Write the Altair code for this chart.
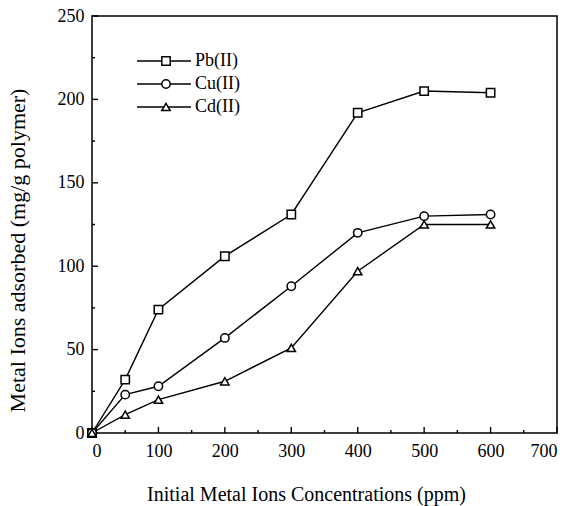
import altair as alt
import pandas as pd

conc = [0, 50, 100, 200, 300, 400, 500, 600]
pb = [0, 32, 74, 106, 131, 192, 205, 204]
cu = [0, 23, 28, 57, 88, 120, 130, 131]
cd = [0, 11, 20, 31, 51, 97, 125, 125]
series = ["Pb(II)", "Cu(II)", "Cd(II)"]
shapes = ["square", "circle", "triangle-up"]
x_labels = [0, 100, 200, 300, 400, 500, 600, 700]
x_minor = [50, 150, 250, 350, 450, 550, 650]
y_labels = [0, 50, 100, 150, 200, 250]
y_minor = [25, 75, 125, 175, 225]

rows = []
for name, vals in zip(series, [pb, cu, cd]):
    for c, v in zip(conc, vals):
        rows.append({"series": name, "conc": c, "value": v})
df = pd.DataFrame(rows)
leg = pd.DataFrame({"series": series})

W, H = 465, 417
FONT = "Liberation Serif"
MAJ, MIN = 6, 3

def xs():
    return alt.Scale(domain=[0, 700], nice=False, zero=False)

def ys():
    return alt.Scale(domain=[0, 250], nice=False, zero=False)

shape_scale = alt.Scale(domain=series, range=shapes)

def xticks(vals, size):
    return alt.Chart(pd.DataFrame({"v": vals})).mark_rule(color="black", strokeWidth=1.4).encode(
        x=alt.X("v:Q", scale=xs(), axis=None), y=alt.value(H), y2=alt.value(H - size))

def yticks(vals, size):
    return alt.Chart(pd.DataFrame({"v": vals})).mark_rule(color="black", strokeWidth=1.4).encode(
        y=alt.Y("v:Q", scale=ys(), axis=None), x=alt.value(0), x2=alt.value(size))

lines = alt.Chart(df).mark_line(color="black", strokeWidth=1.4).encode(
    x=alt.X("conc:Q", scale=xs(), axis=alt.Axis(
        values=x_labels, ticks=False, tickSize=0, domain=False, grid=False,
        labelPadding=9, labelFontSize=18,
        title="Initial Metal Ions Concentrations (ppm)",
        titleFontSize=20, titlePadding=24, titleX=214)),
    y=alt.Y("value:Q", scale=ys(), axis=alt.Axis(
        values=y_labels, ticks=False, tickSize=0, domain=False, grid=False,
        labelPadding=8, labelFontSize=18,
        title="Metal Ions adsorbed (mg/g polymer)",
        titleFontSize=22, titlePadding=28, titleY=234)),
    detail="series:N",
)

points = alt.Chart(df).mark_point(
    filled=True, fill="white", stroke="black", strokeWidth=1.5, size=70, opacity=1
).encode(
    x=alt.X("conc:Q", scale=xs(), axis=None),
    y=alt.Y("value:Q", scale=ys(), axis=None),
    shape=alt.Shape("series:N", scale=shape_scale, legend=None),
)

leg_y = alt.Y("series:N", scale=alt.Scale(type="point", domain=series, range=[45, 91], padding=0), axis=None)

leg_rule = alt.Chart(leg).mark_rule(color="black", strokeWidth=1.4).encode(
    x=alt.value(45), x2=alt.value(99), y=leg_y)
leg_pts = alt.Chart(leg).mark_point(
    filled=True, fill="white", stroke="black", strokeWidth=1.5, size=70, opacity=1
).encode(x=alt.value(74), y=leg_y, shape=alt.Shape("series:N", scale=shape_scale, legend=None))
leg_txt = alt.Chart(leg).mark_text(
    align="left", baseline="middle", font=FONT, fontSize=18, color="black"
).encode(x=alt.value(103), y=leg_y, text="series:N")

chart = alt.layer(
    xticks(x_labels, MAJ), xticks(x_minor, MIN), yticks(y_labels, MAJ), yticks(y_minor, MIN),
    lines, points, leg_rule, leg_pts, leg_txt
).resolve_scale(
    x="independent", y="independent"
).properties(
    width=W, height=H,
    autosize=alt.AutoSizeParams(type="none"),
    padding={"left": 92, "top": 16, "right": 13, "bottom": 73},
    background="white",
).configure_view(
    stroke="black", strokeWidth=1.5
).configure_axis(
    labelFont=FONT, labelColor="black",
    titleFont=FONT, titleColor="black", titleFontWeight="normal",
)

chart.save("out.html", embed_options={"renderer": "svg", "actions": False})
